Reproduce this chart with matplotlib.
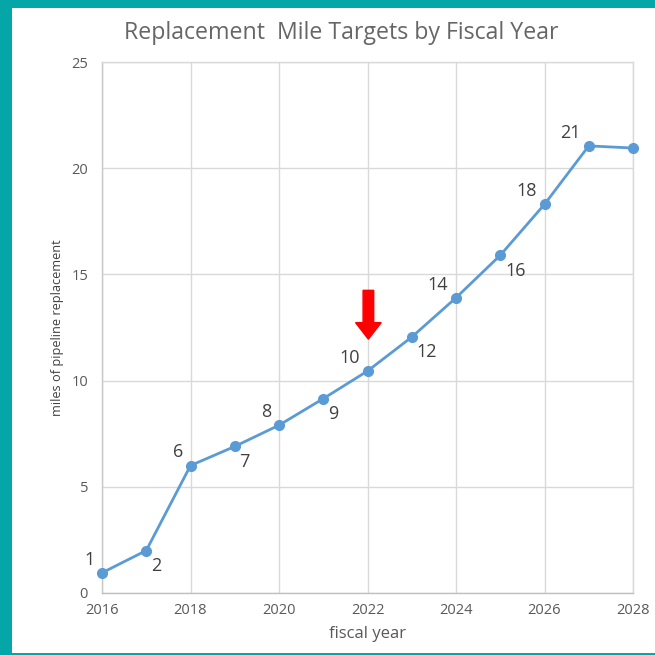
import matplotlib
matplotlib.use("Agg")
import matplotlib.pyplot as plt
from matplotlib.patches import Rectangle, FancyArrow

YEARS = [2016, 2017, 2018, 2019, 2020, 2021, 2022, 2023, 2024, 2025, 2026, 2027, 2028]
MILES = [0.95, 2.0, 6.0, 6.9, 7.9, 9.15, 10.45, 12.05, 13.9, 15.9, 18.3, 21.05, 20.95]
LABELS = ["1", "2", "6", "7", "8", "9", "10", "12", "14", "16", "18", "21", ""]
# which side of the point the value label sits on
SIDES = ["up", "down", "up", "down", "up", "down", "up", "down", "up", "down", "up", "up", None]
X_TICKS = [2016, 2018, 2020, 2022, 2024, 2026, 2028]
Y_TICKS = [0, 5, 10, 15, 20, 25]
ARROW_YEAR, ARROW_TOP, ARROW_BOTTOM = 2022, 14.25, 11.95

TEAL = "#04A6A8"
BLUE = "#5B9BD5"
GRID = "#D9D9D9"
TXT = "#595959"
plt.rcParams["font.family"] = ["Open Sans", "DejaVu Sans"]

fig = plt.figure(figsize=(6.55, 6.55), dpi=100, facecolor=TEAL)
fig.patches.append(Rectangle((12 / 655, 2 / 655), 1, 645 / 655, transform=fig.transFigure,
                             facecolor="white", edgecolor="none", zorder=-10))
ax = fig.add_axes([102 / 655, 62 / 655, 531 / 655, 531 / 655])
ax.set_facecolor("white")

ax.set_xlim(2016, 2028)
ax.set_ylim(0, 25)
ax.set_xticks(X_TICKS)
ax.set_yticks(Y_TICKS)
ax.grid(True, color=GRID, lw=1.0)
ax.set_axisbelow(True)
for s in ["top", "right"]:
    ax.spines[s].set_color(GRID)
ax.spines["left"].set_color("#C8C8C8")
ax.spines["bottom"].set_color("#BFBFBF")
for s in ax.spines.values():
    s.set_linewidth(1.0)
ax.tick_params(length=0, colors=TXT, labelsize=10.5)
ax.tick_params(axis="x", pad=7)
ax.tick_params(axis="y", pad=10)

ax.plot(YEARS, MILES, color=BLUE, lw=2.0, marker="o", ms=7, mfc=BLUE, mec=BLUE,
        zorder=3, clip_on=False)

for x, y, lab, side in zip(YEARS, MILES, LABELS, SIDES):
    if not lab:
        continue
    if side == "up":
        ax.annotate(lab, (x, y), xytext=(-5.5, 9.5), textcoords="offset points",
                    ha="right", va="center", fontsize=13, color="#404040")
    else:
        ax.annotate(lab, (x, y), xytext=(3.5, -11), textcoords="offset points",
                    ha="left", va="center", fontsize=13, color="#404040")

ax.add_patch(FancyArrow(ARROW_YEAR + 0.02, ARROW_TOP, 0, ARROW_BOTTOM - ARROW_TOP,
                        width=0.24, head_width=0.58, head_length=0.78,
                        length_includes_head=True, color="#FF0000", zorder=4))

fig.text(341 / 655, 1 - 33 / 655, "Replacement  Mile Targets by Fiscal Year", color="#666666",
         fontsize=16.7, ha="center", va="center")
ax.set_xlabel("fiscal year", color=TXT, fontsize=12, labelpad=6)
ax.set_ylabel("miles of pipeline replacement", color="#404040", fontsize=9.2,
              family=["Liberation Sans Narrow", "Open Sans", "DejaVu Sans"], labelpad=5)

fig.savefig("out.png", dpi=100, facecolor=TEAL)
